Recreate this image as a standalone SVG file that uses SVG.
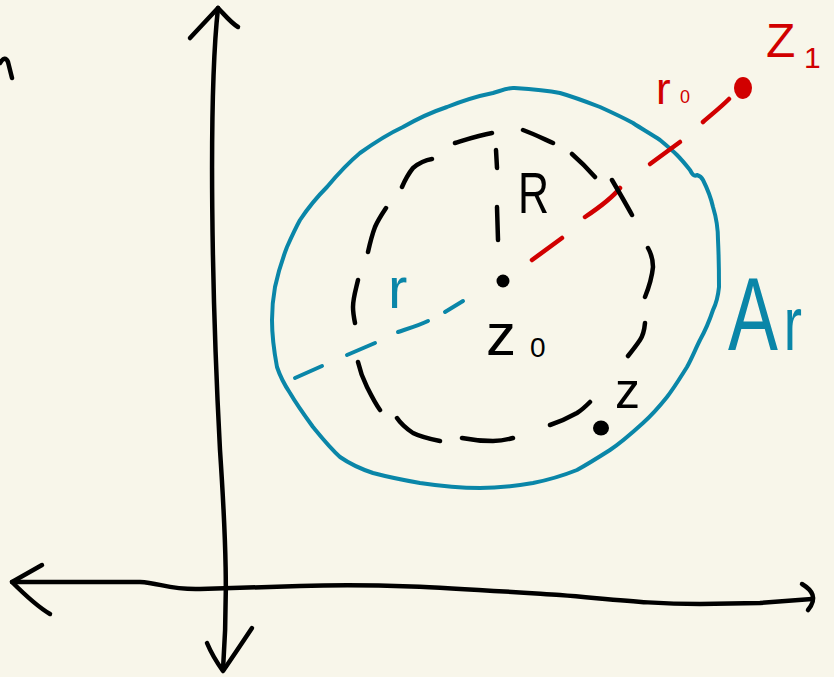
<svg xmlns="http://www.w3.org/2000/svg" width="834" height="677" viewBox="0 0 834 677">
<style>
.k{fill:none;stroke:#000;stroke-width:4.5;stroke-linecap:round;stroke-linejoin:round}
.b{fill:none;stroke:#0a86a8;stroke-width:4;stroke-linecap:round;stroke-linejoin:round}
.r{fill:none;stroke:#d10000;stroke-width:4.5;stroke-linecap:round;stroke-linejoin:round}
text{font-family:"Liberation Sans","DejaVu Sans",sans-serif}
.tk{fill:#000}
.tb{fill:#0a86a8}
.tr{fill:#d10000}
</style>
<rect width="834" height="677" fill="#f8f6ea"/>
<g id="connectors">
<g id="axes">
<path class="k" d="M0,63 Q5,55 8,62 L12,78"/>
<path class="k" d="M218,8 C208,100 212,300 220,450 C226,540 228,600 223,670"/>
<path class="k" d="M190,38 L218,8 C224,14 230,22 238,27"/>
<path class="k" d="M207,643 C212,655 218,664 223,671 C234,655 244,640 252,628"/>
<path class="k" d="M12,582 L140,582 C160,583 170,590 200,589 L300,586 C380,583 450,588 560,595 C620,600 650,604 700,604 L760,603 L812,599"/>
<path class="k" d="M42,565 L12,582 C25,595 38,607 50,614"/>
<path class="k" d="M802,584 C812,590 818,598 808,610"/>
</g>
<path id="radius-R" class="k" d="M496,150 L497,168 M497,207 L498,240"/>
<path id="radius-r0" class="r" d="M532,260 L562,238 M585,217 C600,207 612,198 620,188 M703,122 C712,114 720,108 729,99"/>
<path id="radius-r" class="b" d="M445,312 L463,301 M398,332 C410,328 420,325 428,321 M347,355 L375,343 M295,378 L322,366"/>
</g>
<g id="circle-Ar">
<path class="b" d="M677,155 C682,160 686,165 690,170 C692,174 694,177 697,175 C700,176 702,178 703,180 C708,190 711,198 713,207 C717,220 718,230 718,240 C719,260 719,275 719,287 C718,297 716,304 713,310 C709,322 705,331 700,340 C695,350 692,358 687,367 C680,378 674,388 667,397 C659,407 652,415 643,423 C632,433 622,442 610,450 C599,457 588,464 577,470 C562,476 548,480 533,483 C515,486 498,488 480,488 C460,488 440,486 420,483 C403,480 388,477 373,473 C361,469 350,464 340,457 C330,448 322,438 313,427 C305,416 297,405 290,393 C284,384 280,376 277,367 C274,351 272,336 272,320 C272,309 273,298 275,287 C278,273 282,260 287,247 C291,238 295,229 300,220 C308,208 317,197 327,187 C337,175 348,163 360,153 C374,143 388,134 403,127 C417,119 432,112 447,107 C462,101 478,96 493,93 C500,91 507,88 513,88 C528,89 544,90 560,93 C574,97 587,102 600,107 C611,112 622,117 633,123 C642,129 651,134 660,140 C666,145 672,150 677,155"/>
<path class="r" d="M650,164 L680,142"/>
</g>
<g id="circle-R">
<path class="k" d="M455,143 C468,139 480,135 492,133 M523,130 C534,134 544,139 553,143 M572,154 C580,161 588,169 595,177 M612,180 C619,192 626,204 632,215 M648,248 C652,255 653,261 653,267 C652,277 649,287 645,297 M645,323 C644,334 640,340 640,340 C636,346 632,351 628,356 M590,402 C586,406 582,410 577,413 C568,418 559,422 550,425 M513,438 C506,440 500,441 493,441 C483,441 472,440 462,438 M440,441 C430,439 421,437 413,433 C407,429 401,424 397,418 M380,410 C375,403 371,395 367,387 C363,379 360,371 358,362 M355,323 C354,318 353,312 353,307 C353,298 356,289 358,280 M368,252 C370,243 372,235 375,227 C378,220 382,214 386,208 M402,187 C405,180 409,173 413,168 C419,163 425,160 432,159"/>
</g>
<g id="z0">
<circle cx="503" cy="281" r="6.5" fill="#000"/>
<text class="tk" x="486" y="355" font-size="60">z<tspan x="530" y="357" font-size="28">0</tspan></text>
</g>
<g id="z">
<ellipse cx="601" cy="428" rx="8" ry="7.5" fill="#000"/>
<text class="tk" x="615" y="408" font-size="50">z</text>
</g>
<g id="z1">
<ellipse cx="743" cy="88" rx="9" ry="11" fill="#d10000"/>
<text class="tr" x="766" y="57" font-size="48">Z<tspan x="804" y="68" font-size="30">1</tspan></text>
</g>
<g id="labels">
<text class="tk" x="518" y="213" font-size="58" textLength="31" lengthAdjust="spacingAndGlyphs">R</text>
<text class="tr" x="656" y="104" font-size="44">r<tspan x="680" y="103" font-size="18">0</tspan></text>
<text class="tb" x="388" y="308" font-size="58">r</text>
<text class="tb" transform="translate(728,350) scale(0.72,1)" font-size="104">A<tspan font-size="76" dx="8">r</tspan></text>
</g>
</svg>
